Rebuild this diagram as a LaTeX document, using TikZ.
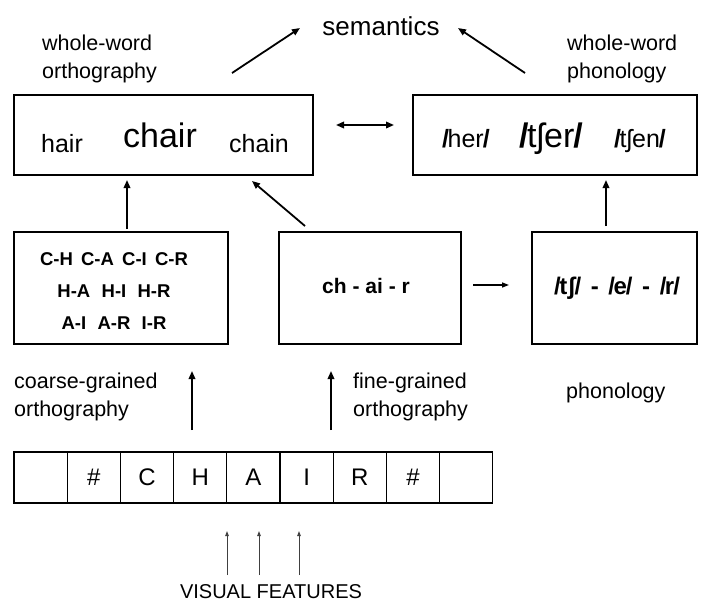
\documentclass[tikz,border=0pt]{standalone}
\usepackage{fontspec}
\setmainfont{Liberation Sans}
\usetikzlibrary{arrows.meta}
\newcommand{\slL}{\textbf{/}\kern-1.5pt}
\newcommand{\slR}{\kern-1pt\textbf{/}}
\newcommand{\dsh}{\hspace{0.4em}-\hspace{0.4em}}
\begin{document}
\begin{tikzpicture}[x=1pt,y=-1pt,
  box/.style={draw,line width=1.8pt,inner sep=0pt},
  cell/.style={draw,line width=1.2pt,minimum width=53.2pt,minimum height=51pt,inner sep=0pt,font=\fontsize{24}{24}\selectfont},
  arr/.style={line width=1.8pt,-{Triangle[length=8pt,width=6.5pt]}},
  thinarr/.style={line width=0.9pt,black!75,-{Triangle[length=5pt,width=3.5pt]}},
  lbl/.style={align=left,inner sep=0pt,font=\fontsize{21.5}{28}\selectfont},
  word/.style={inner sep=0pt,anchor=base}]
\useasboundingbox (0,0) rectangle (701,603);
% boxes
\node[box,minimum width=299pt,minimum height=80pt] (tl) at (163.5,135) {};
\node[box,minimum width=284pt,minimum height=80pt] (tr) at (555,135) {};
\node[box,minimum width=214pt,minimum height=112pt] (ml) at (121,288) {};
\node[box,minimum width=182pt,minimum height=112pt] (mm) at (370,288) {};
\node[box,minimum width=165pt,minimum height=112pt] (mr) at (614.5,288) {};
\node[inner sep=0pt,align=center,font=\fontsize{18.5}{32}\selectfont\bfseries] (pairs) at (114,291) {C-H\, C-A\, C-I\, C-R\\H-A\,\, H-I\,\, H-R\\A-I\,\, A-R\,\, I-R};
\node[word,font=\fontsize{21}{21}\selectfont\bfseries] (chair2) at (366,293) {ch - ai - r};
\node[word,font=\fontsize{24}{24}\selectfont\bfseries] (tsh2) at (617,294) {\slL t\kern0.3pt ʃ\slR\dsh\slL e\slR\dsh\slL r\slR};
% words in top boxes
\node[word,font=\fontsize{25}{25}\selectfont] (hair) at (62,152) {hair};
\node[word,font=\fontsize{34}{34}\selectfont] (chair) at (160,147) {chair};
\node[word,font=\fontsize{25}{25}\selectfont] (chain) at (259,152) {chain};
\node[word,font=\fontsize{25}{25}\selectfont] (her) at (466,147) {\slL her\slR};
\node[word,font=\fontsize{34}{34}\selectfont] (tsher) at (551,147) {\slL tʃer\slR};
\node[word,font=\fontsize{25}{25}\selectfont] (tshen) at (640,147) {\slL tʃen\slR};
% labels
\node[word,font=\fontsize{26}{26}\selectfont] (sem) at (381,35) {semantics};
\node[lbl,anchor=north west] (wwo) at (42,35) {whole-word\\orthography};
\node[lbl,anchor=north west] (wwp) at (567,35) {whole-word\\phonology};
\node[lbl,anchor=north west] (cgo) at (14,373) {coarse-grained\\orthography};
\node[lbl,anchor=north west] (fgo) at (353,373) {fine-grained\\orthography};
\node[lbl,anchor=north west] (pho) at (566,383) {phonology};
\node[word,font=\fontsize{20}{20}\selectfont] (vis) at (271,598) {VISUAL FEATURES};
% letter row
\foreach \t [count=\i from 0] in {{},\#,C,H,A,I,R,\#,{}} {
  \node[cell] (c\i) at ({14+53.2*(\i+0.5)},477.5) {\t};
}
% connector endpoints
\coordinate (semL) at (300,28);
\coordinate (semR) at (458,28);
\coordinate (wwoA) at (232,73);
\coordinate (wwpA) at (525,73);
\coordinate (mlTop) at (127,229);
\coordinate (tlBot) at (127,180);
\coordinate (mmTop) at (305,226);
\coordinate (tlBotR) at (252,181);
\coordinate (mrTop) at (606,226);
\coordinate (trBot) at (606,180);
\coordinate (dL) at (336,125);
\coordinate (dR) at (394,125);
\coordinate (hR) at (473,285);
\coordinate (hE) at (509,285);
\coordinate (cgB) at (192,430);
\coordinate (cgT) at (192,371);
\coordinate (fgB) at (331,430);
\coordinate (fgT) at (331,371);
% connectors
\draw[arr] (wwoA) -- (semL);
\draw[arr] (wwpA) -- (semR);
\draw[arr] (mlTop) -- (tlBot);
\draw[arr] (mmTop) -- (tlBotR);
\draw[arr] (mrTop) -- (trBot);
\draw[line width=1.8pt,{Triangle[length=8pt,width=6.5pt]}-{Triangle[length=8pt,width=6.5pt]}] (dL) -- (dR);
\draw[line width=1.3pt,-{Triangle[length=7pt,width=5pt]}] (hR) -- (hE);
\draw[arr] (cgB) -- (cgT);
\draw[arr] (fgB) -- (fgT);
\foreach \xx [count=\k] in {227,259,299} {
  \coordinate (vb\k) at (\xx,575);
  \coordinate (vt\k) at (\xx,531);
  \draw[thinarr] (vb\k) -- (vt\k);
}
\end{tikzpicture}
\end{document}
